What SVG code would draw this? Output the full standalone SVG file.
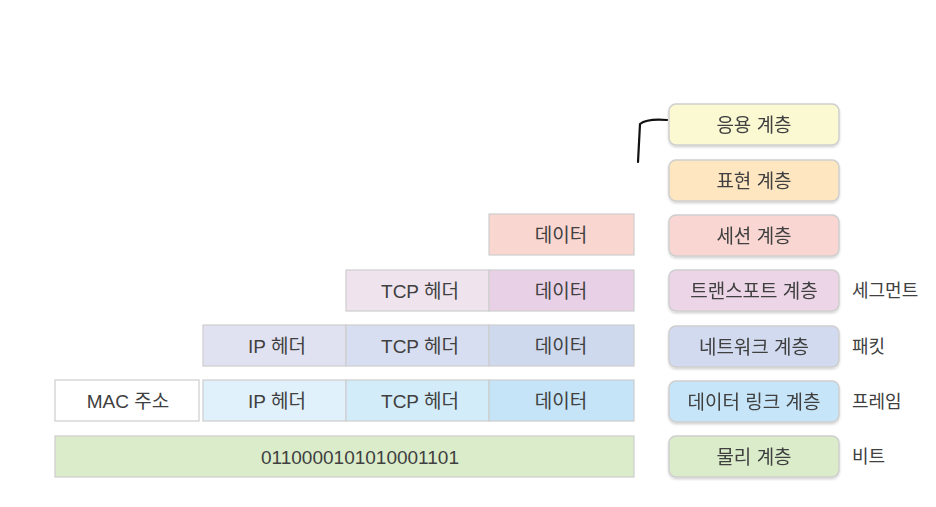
<svg xmlns="http://www.w3.org/2000/svg" width="936" height="507" viewBox="0 0 936 507">
<defs>
<style>
text{font-family:"Liberation Sans","Noto Sans CJK KR",sans-serif;font-size:19px;fill:#404040;text-anchor:middle;dominant-baseline:central}
.side{text-anchor:start;font-size:18px}
.layer{stroke:#cfcfcf;stroke-width:1.5}
.cell{stroke:#cdcdcd;stroke-width:1.2}
</style>
<filter id="sh" x="-10%" y="-20%" width="120%" height="150%">
<feDropShadow dx="0" dy="1.5" stdDeviation="1.2" flood-color="#000" flood-opacity="0.18"/>
</filter>
</defs>
<rect width="936" height="507" fill="#fff"/>

<g id="layers" filter="url(#sh)">
<g id="app"><rect class="layer" x="669" y="104" width="170" height="41" rx="7" fill="#fbf9d2"/><text x="754" y="125">응용 계층</text></g>
<g id="pres"><rect class="layer" x="669" y="160" width="170" height="41" rx="7" fill="#fde6c0"/><text x="754" y="181">표현 계층</text></g>
<g id="sess"><rect class="layer" x="669" y="215" width="170" height="41" rx="7" fill="#f9d6d2"/><text x="754" y="236">세션 계층</text></g>
<g id="trans"><rect class="layer" x="669" y="270" width="170" height="41" rx="7" fill="#ecd5e7"/><text x="754" y="291">트랜스포트 계층</text></g>
<g id="net"><rect class="layer" x="669" y="326" width="170" height="41" rx="7" fill="#d2daef"/><text x="754" y="347">네트워크 계층</text></g>
<g id="dl"><rect class="layer" x="669" y="381" width="170" height="41" rx="7" fill="#c7e5f8"/><text x="754" y="402">데이터 링크 계층</text></g>
<g id="phy"><rect class="layer" x="669" y="436" width="170" height="41" rx="7" fill="#dbecca"/><text x="754" y="457">물리 계층</text></g>
</g>

<g id="units">
<text class="side" x="852" y="291">세그먼트</text>
<text class="side" x="852" y="347">패킷</text>
<text class="side" x="852" y="402">프레임</text>
<text class="side" x="852" y="457">비트</text>
</g>

<g id="row-session">
<rect class="cell" x="489" y="214" width="145" height="41" fill="#fad6d1"/><text x="561" y="235">데이터</text>
</g>
<g id="row-transport">
<rect class="cell" x="346" y="270" width="143" height="41" fill="#efe4ee"/><text x="420" y="291">TCP 헤더</text>
<rect class="cell" x="489" y="270" width="145" height="41" fill="#e8d1e6"/><text x="561" y="291">데이터</text>
</g>
<g id="row-network">
<rect class="cell" x="203" y="325" width="143" height="41" fill="#e0e2f1"/><text x="277" y="346">IP 헤더</text>
<rect class="cell" x="346" y="325" width="143" height="41" fill="#d8def1"/><text x="420" y="346">TCP 헤더</text>
<rect class="cell" x="489" y="325" width="145" height="41" fill="#cfd9ee"/><text x="561" y="346">데이터</text>
</g>
<g id="row-datalink">
<rect class="cell" x="55" y="380" width="144" height="41" fill="#ffffff"/><text x="128" y="401">MAC 주소</text>
<rect class="cell" x="203" y="380" width="143" height="41" fill="#e1f1fb"/><text x="277" y="401">IP 헤더</text>
<rect class="cell" x="346" y="380" width="143" height="41" fill="#d3ecf9"/><text x="420" y="401">TCP 헤더</text>
<rect class="cell" x="489" y="380" width="145" height="41" fill="#c5e4f7"/><text x="561" y="401">데이터</text>
</g>
<g id="row-physical">
<rect class="cell" x="55" y="436" width="579" height="41" fill="#dbecca"/><text x="360" y="457">0110000101010001101</text>
</g>

<g id="connectors">
<path d="M667,120 C655,119 645,120 640,124 L638,162" fill="none" stroke="#111" stroke-width="2.2" stroke-linecap="round"/>
</g>
</svg>
